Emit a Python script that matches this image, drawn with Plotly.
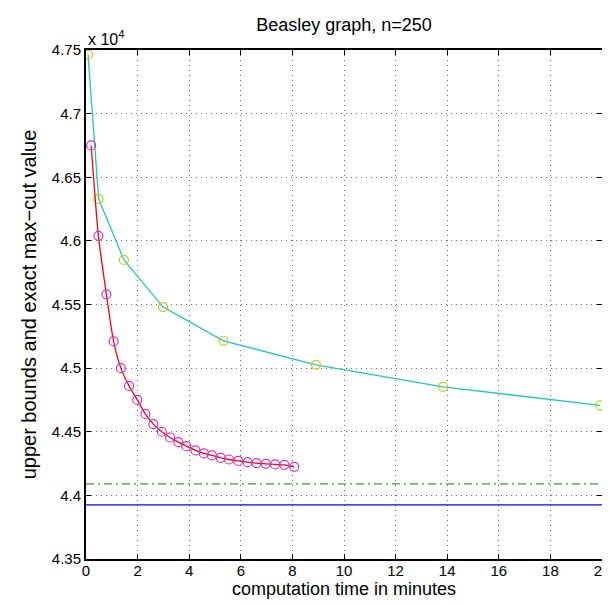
import numpy as np
import plotly.graph_objects as go

# upper bound 1 (cyan line, yellow circles)
t_ub1 = [0.08, 0.49, 1.47, 2.99, 5.33, 8.91, 13.84, 19.93]
v_ub1 = [47463, 46330, 45850, 45480, 45215, 45026, 44853, 44707]

# upper bound 2 (red line, magenta circles)
t_ub2 = [0.20, 0.48, 0.79, 1.07, 1.35, 1.67, 1.99, 2.30, 2.61, 2.94, 3.26, 3.58,
         3.89, 4.24, 4.57, 4.88, 5.22, 5.54, 5.90, 6.26, 6.61, 6.97, 7.33, 7.69, 8.07]
v_ub2 = [46750, 46040, 45580, 45210, 45000, 44860, 44750, 44640, 44560, 44500,
         44455, 44418, 44387, 44353, 44330, 44314, 44295, 44282, 44271, 44261,
         44253, 44248, 44243, 44240, 44224]

# horizontal reference values
t_span = [0, 20]
v_bound = 44090   # dash-dot green
v_exact = 43925   # exact max-cut (blue)

scale = 1e4
font_family = "Liberation Sans, Arial, Helvetica, sans-serif"

fig = go.Figure()

fig.add_trace(go.Scatter(x=t_span, y=np.array([v_bound, v_bound]) / scale, mode="lines",
                         line=dict(color="#3f9a3f", width=1.3, dash="8px,4px,2px,4px"),
                         hoverinfo="skip"))
fig.add_trace(go.Scatter(x=t_span, y=np.array([v_exact, v_exact]) / scale, mode="lines",
                         line=dict(color="#0000ff", width=1.4), hoverinfo="skip"))

fig.add_trace(go.Scatter(x=t_ub1, y=np.array(v_ub1) / scale, mode="lines",
                         line=dict(color="#1fc6c6", width=1.3)))
fig.add_trace(go.Scatter(x=t_ub1, y=np.array(v_ub1) / scale, mode="markers",
                         marker=dict(symbol="circle-open", size=9, color="#c8c814",
                                     line=dict(width=1.2))))

fig.add_trace(go.Scatter(x=t_ub2, y=np.array(v_ub2) / scale, mode="lines",
                         line=dict(color="#ff0000", width=1.3, shape="spline", smoothing=0.6)))
fig.add_trace(go.Scatter(x=t_ub2, y=np.array(v_ub2) / scale, mode="markers",
                         marker=dict(symbol="circle-open", size=9, color="#cc33cc",
                                     line=dict(width=1.2))))

axis_style = dict(
    showline=True, linecolor="black", linewidth=2, mirror="ticks",
    ticks="inside", ticklen=5, tickcolor="black",
    showgrid=True, gridcolor="#6f6f6f", griddash="1px,4px", gridwidth=1,
    zeroline=False,
    tickfont=dict(family=font_family, size=15, color="black"),
)

fig.update_xaxes(range=[0, 20], tickvals=list(range(0, 21, 2)), ticklabelstandoff=-3,
                 title=dict(text="computation time in minutes", standoff=4,
                            font=dict(family=font_family, size=18, color="black")),
                 **axis_style)
fig.update_yaxes(range=[4.35, 4.75], tickvals=[4.35, 4.4, 4.45, 4.5, 4.55, 4.6, 4.65, 4.7, 4.75],
                 ticktext=["4.35", "4.4", "4.45", "4.5", "4.55", "4.6", "4.65", "4.7", "4.75"],
                 title=dict(text="upper bounds and exact max−cut value", standoff=10,
                            font=dict(family=font_family, size=20, color="black")),
                 **axis_style)

fig.add_annotation(text="x 10<sup>4</sup>", xref="paper", yref="paper", x=0, y=1,
                   xanchor="left", yanchor="bottom", yshift=0, showarrow=False,
                   font=dict(family=font_family, size=16, color="black"))

fig.update_layout(
    width=610, height=605,
    margin=dict(l=78, r=8, t=42, b=54),
    plot_bgcolor="white", paper_bgcolor="white",
    showlegend=False,
    title=dict(text="Beasley graph, n=250", x=0.5, xref="paper", xanchor="center",
               y=1 - 17 / 605, yanchor="middle",
               font=dict(family=font_family, size=18, color="black")),
)

fig.write_html("out.html")
